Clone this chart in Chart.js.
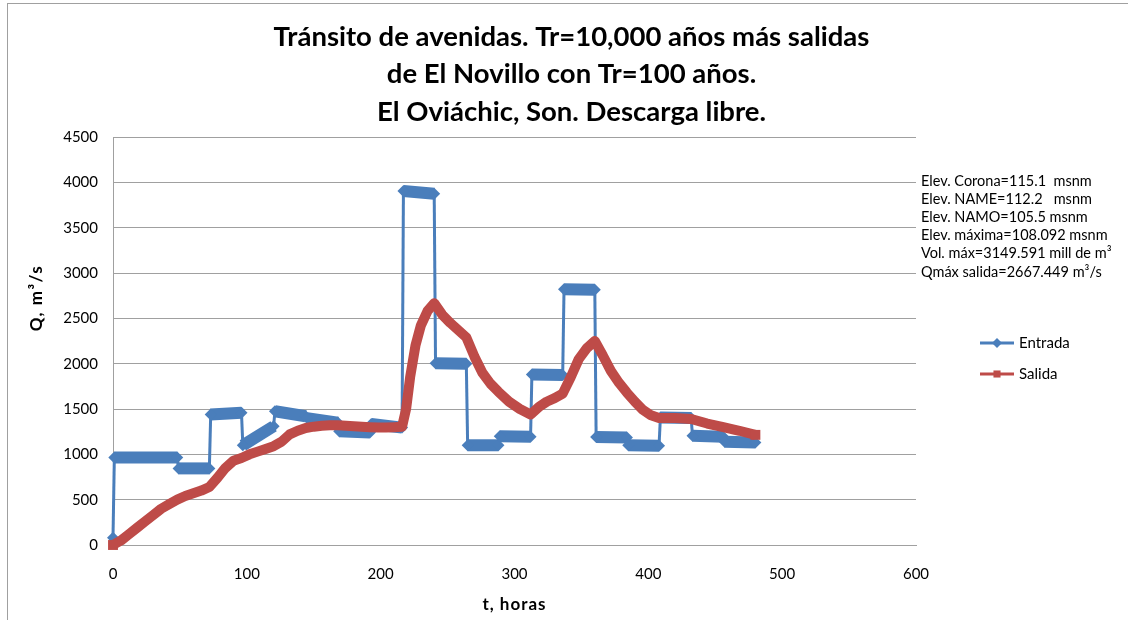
<!DOCTYPE html>
<html>
<head>
<meta charset="utf-8">
<title>Tránsito de avenidas</title>
<script src="https://cdn.jsdelivr.net/npm/chart.js@4.4.0/dist/chart.umd.min.js"></script>
<style>
  html, body { margin: 0; padding: 0; background: #fff; }
</style>
</head>
<body>
<canvas id="myChart" width="1128" height="620"></canvas>
<script>
// hidrograma de entrada (bloques diarios) y de salida del vaso
const entradaHoras = [0, 1, 48, 49, 72, 73, 96, 97, 120, 121, 144, 145, 168, 169, 192, 193, 216,
    217, 240, 241, 264, 265, 288, 289, 312, 313, 336, 337, 360, 361, 384, 385, 408, 409, 432,
    433, 456, 457, 480];
const entradaQ = [80, 965, 965, 845, 845, 1440, 1460, 1100, 1310, 1475, 1420, 1400, 1350, 1255, 1240,
    1335, 1295, 3905, 3875, 2005, 2000, 1100, 1100, 1200, 1195, 1880, 1875, 2820, 2815, 1190, 1185,
    1100, 1095, 1405, 1400, 1205, 1195, 1140, 1130];

const salidaHoras = [0, 6, 12, 18, 24, 30, 36, 42, 48, 54, 60, 66, 72, 78, 84, 90, 96, 102, 108, 114,
    120, 126, 132, 138, 144, 150, 156, 162, 168, 174, 180, 186, 192, 198, 204, 210, 216, 219, 222,
    226, 230, 235, 240, 246, 252, 258, 264, 270, 276, 282, 288, 296, 304, 312, 318, 324, 330, 336,
    342, 348, 354, 360, 366, 372, 378, 384, 390, 396, 402, 408, 420, 432, 444, 456, 468, 480];
const salidaQ = [0, 50, 120, 190, 260, 330, 400, 450, 500, 540, 570, 600, 640, 740, 850, 930, 960, 1000,
    1030, 1060, 1090, 1140, 1220, 1260, 1290, 1305, 1315, 1320, 1320, 1315, 1310, 1305, 1300, 1295,
    1295, 1300, 1305, 1500, 1850, 2200, 2420, 2580, 2667, 2540, 2450, 2370, 2290, 2080, 1900, 1780,
    1690, 1580, 1500, 1440, 1520, 1580, 1620, 1670, 1850, 2050, 2170, 2250, 2090, 1920, 1790, 1680,
    1580, 1490, 1430, 1400, 1400, 1390, 1340, 1300, 1260, 1215];

const titulo = ['Tránsito de avenidas. Tr=10,000 años más salidas',
    'de El Novillo con Tr=100 años.',
    'El Oviáchic, Son. Descarga libre.'];
const notas = ['Elev. Corona=115.1  msnm',
    'Elev. NAME=112.2   msnm',
    'Elev. NAMO=105.5 msnm',
    'Elev. máxima=108.092 msnm',
    'Vol. máx=3149.591 mill de m³',
    'Qmáx salida=2667.449 m³/s'];

const azul = '#4a7ebb';
const rojo = '#be4b48';
const gris = '#a0a0a0';

function toPoints(xs, ys) {
    return xs.map((x, i) => ({ x: x, y: ys[i] }))
}

// marco, titulos de ejes, notas y leyenda
const extras = {
    id: 'extras',
    afterDraw(chart) {
        const ctx = chart.ctx;
        const area = chart.chartArea;
        ctx.save();
        ctx.strokeStyle = gris;
        ctx.lineWidth = 1;
        ctx.strokeRect(7.5, 3.5, 1300, 800);

        ctx.fillStyle = '#000';
        ctx.font = 'bold 17px Lato';
        ctx.letterSpacing = '1px';
        ctx.textAlign = 'center';
        ctx.textBaseline = 'middle';
        ctx.fillText('t, horas', (area.left + area.right) / 2, 605);
        ctx.letterSpacing = '1.5px';
        ctx.translate(37, 298);
        ctx.rotate(-Math.PI / 2);
        ctx.fillText('Q, m³/s', 0, 0);
        ctx.setTransform(1, 0, 0, 1, 0, 0);
        ctx.letterSpacing = '0px';

        ctx.font = '14.5px Lato';
        ctx.textAlign = 'left';
        notas.forEach((t, i) => ctx.fillText(t, 921, 181 + i * 18.2));

        const items = [
            { label: 'Entrada', color: azul, y: 343, style: 'rectRot' },
            { label: 'Salida', color: rojo, y: 374, style: 'rect' }
        ];
        items.forEach(it => {
            ctx.strokeStyle = it.color;
            ctx.lineWidth = 3;
            ctx.beginPath();
            ctx.moveTo(980, it.y);
            ctx.lineTo(1014, it.y);
            ctx.stroke();
            ctx.fillStyle = it.color;
            Chart.helpers.drawPoint(ctx, { pointStyle: it.style, radius: 5, borderWidth: 0 }, 997, it.y);
            ctx.fillStyle = '#000';
            ctx.font = '15px Lato';
            ctx.fillText(it.label, 1019, it.y);
        });
        ctx.restore();
    }
};

const endsOnly = c => (c.dataIndex === 0 || c.dataIndex === salidaHoras.length - 1) ? 7 : 0;

const myChart = new Chart(document.getElementById('myChart'), {
    type: 'line',
    data: {
        datasets: [{
            label: 'Entrada',
            data: toPoints(entradaHoras, entradaQ),
            borderColor: azul,
            backgroundColor: azul,
            borderWidth: 3,
            pointStyle: 'rectRot',
            pointRadius: 6,
            pointBorderWidth: 0,
            tension: 0,
            clip: false,
            order: 1,
            segment: {
                // tramos de un dia gruesos, saltos de una hora delgados
                borderWidth: c => (c.p1.parsed.x - c.p0.parsed.x) > 1 ? 12 : 3
            }
        }, {
            label: 'Salida',
            data: toPoints(salidaHoras, salidaQ),
            borderColor: rojo,
            backgroundColor: rojo,
            borderWidth: 10,
            borderJoinStyle: 'round',
            pointStyle: 'rect',
            pointRadius: endsOnly,
            pointBorderWidth: 0,
            tension: 0,
            clip: false,
            order: 0
        }]
    },
    options: {
        responsive: false,
        animation: false,
        layout: { padding: { left: 15, right: 0, top: 0, bottom: 0 } },
        plugins: {
            legend: { display: false },
            tooltip: { enabled: false },
            title: {
                display: true,
                text: titulo,
                color: '#000',
                font: { family: 'Lato', size: 27.5, weight: 'bold', lineHeight: 1.364 },
                padding: { top: 18.25, bottom: 6.25 }
            }
        },
        scales: {
            x: {
                type: 'linear',
                min: 0,
                max: 600,
                afterFit: s => { s.height = 75 },
                ticks: { stepSize: 100, color: '#000', padding: 12, font: { family: 'Lato', size: 15 } },
                grid: { display: false },
                border: { color: gris }
            },
            y: {
                min: 0,
                max: 4500,
                afterFit: s => { s.width = 98 },
                ticks: {
                    stepSize: 500, color: '#000', padding: 15, font: { family: 'Lato', size: 15 },
                    callback: v => String(v)
                },
                grid: { color: gris, drawTicks: false },
                border: { color: gris }
            },
            // franja derecha reservada para notas y leyenda
            notas: {
                position: 'right',
                afterFit: s => { s.width = 212 },
                ticks: { display: false },
                grid: { display: false },
                border: { display: false }
            }
        }
    },
    plugins: [extras]
});
</script>
</body>
</html>
